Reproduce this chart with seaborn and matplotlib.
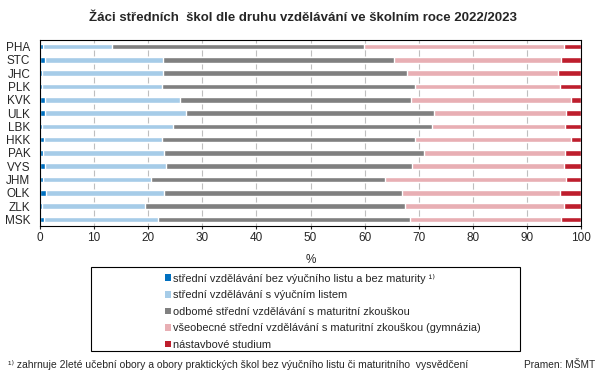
import matplotlib
matplotlib.use("Agg")
import matplotlib.pyplot as plt
import seaborn as sns
import pandas as pd
from matplotlib.patches import Patch, Rectangle

# ------------------------------------------------------------------
# Data (% of pupils by type of secondary education, 2022/2023)
# ------------------------------------------------------------------
kraje = ["PHA", "STC", "JHC", "PLK", "KVK", "ULK", "LBK",
         "HKK", "PAK", "VYS", "JHM", "OLK", "ZLK", "MSK"]

bez_listu   = [0.5, 1.0, 0.3, 0.3, 0.9, 0.9, 0.3, 0.7, 0.5, 0.9, 0.5, 1.2, 0.3, 0.7]
s_listem    = [12.8, 21.7, 22.4, 22.2, 25.0, 26.0, 24.3, 21.8, 22.4, 22.4, 20.0, 21.7, 19.1, 21.1]
odborne     = [46.5, 42.7, 45.2, 46.9, 42.7, 46.0, 47.9, 46.9, 48.1, 45.5, 43.3, 44.1, 48.1, 46.5]
gymnazia    = [37.1, 30.9, 27.8, 26.7, 29.5, 24.3, 24.5, 28.7, 26.0, 28.0, 33.4, 29.1, 29.3, 28.0]
nastavbove  = [3.1, 3.7, 4.3, 3.9, 1.9, 2.8, 3.0, 1.9, 3.0, 3.2, 2.8, 3.9, 3.2, 3.7]

labels = [
    "střední vzdělávání bez výučního listu a bez maturity ¹⁾",
    "střední vzdělávání s výučním listem",
    "odbomé střední vzdělávání s maturitní zkouškou",
    "všeobecné střední vzdělávání s maturitní zkouškou (gymnázia)",
    "nástavbové studium",
]
colors = ["#0070C0", "#A6CCE8", "#808080", "#E8AFB4", "#BE1E2D"]

df = pd.DataFrame({"kraj": kraje, "s0": bez_listu, "s1": s_listem,
                   "s2": odborne, "s3": gymnazia, "s4": nastavbove})
series = ["s0", "s1", "s2", "s3", "s4"]
cum = df[series].cumsum(axis=1)
cum = cum.div(cum["s4"], axis=0) * 100
cum["kraj"] = df["kraj"]

# ------------------------------------------------------------------
# Plot
# ------------------------------------------------------------------
sns.set_style("white")
plt.rcParams["font.family"] = ["Liberation Sans", "DejaVu Sans"]

fig = plt.figure(figsize=(6.04, 3.79), dpi=100)
ax = fig.add_axes([40 / 604, 1 - 226 / 379, 541 / 604, 186 / 379])

# stacked bars: draw cumulative totals from the largest down
for s, c in reversed(list(zip(series, colors))):
    sns.barplot(data=cum, x=s, y="kraj", color=c, width=0.42,
                saturation=1, ax=ax, orient="h")

ax.set_xlim(0, 100)
ax.set_xticks(range(0, 101, 10))
ax.set_xlabel("%", fontsize=8.5, labelpad=7)
ax.set_ylabel("")
ax.tick_params(axis="y", length=0, labelsize=8.5, pad=7)
ax.tick_params(axis="x", length=2.5, width=0.8, labelsize=8.5, pad=2,
               direction="out", bottom=True)
ax.xaxis.grid(True, color="#BFBFBF", linewidth=0.8)
ax.set_axisbelow(True)
for sp in ax.spines.values():
    sp.set_visible(True)
    sp.set_color("black")
    sp.set_linewidth(0.8)

fig.text(303 / 604, 1 - 18 / 379,
         "Žáci středních  škol dle druhu vzdělávání ve školním roce 2022/2023",
         ha="center", va="center", fontsize=9.5, fontweight="bold")

# legend in a wide box
fig.patches.append(Rectangle((91 / 604, 1 - 351 / 379), 429 / 604, 84 / 379,
                             transform=fig.transFigure, fill=False,
                             edgecolor="black", linewidth=0.8))
handles = [Patch(facecolor=c, edgecolor="none") for c in colors]
fig.legend(handles, labels, loc="upper left",
           bbox_to_anchor=(157 / 604, 1 - 266 / 379),
           frameon=False, fontsize=7.9, handlelength=0.55, handleheight=0.55,
           handletextpad=0.25, labelspacing=0.6, borderpad=0.2)

fig.text(8 / 604, 1 - 365 / 379,
         "¹⁾ zahrnuje 2leté učební obory a obory praktických škol bez výučního listu či maturitního  vysvědčení",
         ha="left", va="center", fontsize=7.5)
fig.text(595 / 604, 1 - 365 / 379, "Pramen: MŠMT",
         ha="right", va="center", fontsize=7.3)

fig.savefig("out.png", dpi=100)
